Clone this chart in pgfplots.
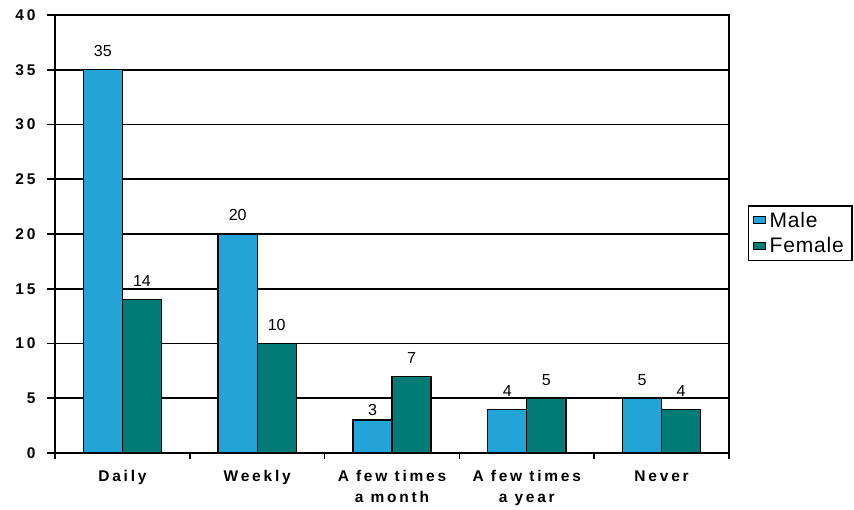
\documentclass[border=0pt]{standalone}
\usepackage{pgfplots}
\pgfplotsset{compat=1.18}
\usepackage{fontspec}
\setmainfont{Liberation Sans}
\newfontfamily\spacedbold[LetterSpace=18]{Liberation Sans Bold}
\newfontfamily\legendfont[LetterSpace=4]{Liberation Sans}

\definecolor{male}{RGB}{35,164,215}
\definecolor{female}{RGB}{0,123,117}

\begin{document}
\begin{tikzpicture}
\begin{axis}[
  name=ax,
  scale only axis,
  width=674pt, height=438pt,
  ybar,
  bar width=0.29,
  xmin=-0.5, xmax=4.5,
  ymin=0, ymax=40,
  ytick={0,5,...,40},
  xtick={0,1,2,3,4},
  xticklabels={Daily, Weekly, {A few times\\a month}, {A few times\\a year}, Never},
  minor xtick={-0.5,0.5,1.5,2.5,3.5,4.5},
  xtick pos=lower, ytick pos=left,
  tick align=outside,
  major tick length=8pt,
  minor tick length=6pt,
  major x tick style={draw=none},
  every tick/.style={black, line width=1.6pt},
  axis line style={black, line width=1.6pt},
  ymajorgrids,
  major grid style={black, line width=1.6pt},
  /pgf/number format/assume math mode=true,
  xticklabel style={align=center, font=\spacedbold\fontsize{15.5}{21}\selectfont, yshift=-6pt},
  yticklabel style={font=\spacedbold\fontsize{15.5}{15}\selectfont, xshift=-8pt},
  nodes near coords,
  every node near coord/.append style={font=\fontsize{16}{16}\selectfont, yshift=9pt},
  legend image code/.code={\draw[#1, line width=1pt] (0pt,-3.5pt) rectangle (12pt,3.5pt);},
  legend style={at={(1.028,0.566)}, anchor=north west, draw=black, line width=1.5pt,
    font=\legendfont\fontsize{21}{21}\selectfont, cells={anchor=west},
    inner xsep=4pt, inner ysep=4pt, row sep=5pt,
    nodes={inner xsep=4pt}},
]
\addplot[fill=male, draw=black, line width=1.3pt, bar shift=-0.145,
  coordinate style/.condition={\coordindex==2}{yshift=-8pt}]
  coordinates {(0,35) (1,20) (2,3) (3,4) (4,5)};
\addplot[fill=female, draw=black, line width=1.3pt, bar shift=0.145]
  coordinates {(0,14) (1,10) (2,7) (3,5) (4,4)};
\legend{Male, Female}
\end{axis}
\pgfresetboundingbox
\path ([shift={(-55pt,-57pt)}]ax.south west) rectangle ([shift={(125pt,15pt)}]ax.north east);
\end{tikzpicture}
\end{document}
